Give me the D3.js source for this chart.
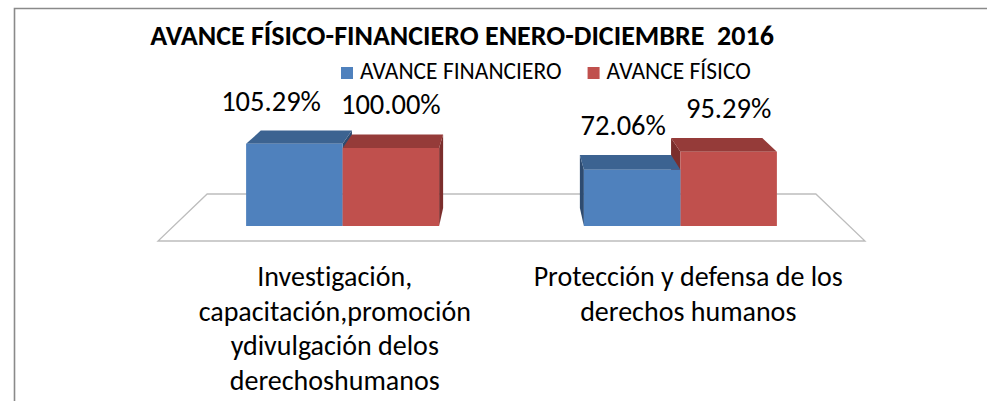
<!DOCTYPE html>
<html lang="es">
<head>
<meta charset="UTF-8" />
<title>Avance físico-financiero 2016</title>
<style>
  * { margin: 0; padding: 0; box-sizing: border-box; }
  body { background: #fff; width: 987px; height: 401px; overflow: hidden; }
  svg text { font-family: Calibri, Carlito, Lato, sans-serif; fill: #000; font-variant-ligatures: none; }
</style>
</head>
<body>
<svg id="chart" width="987" height="401"></svg>
<script src="https://d3js.org/d3.v7.min.js"></script>
<script>
// --- data ---
const categories = ['Investigación, capacitación,promoción ydivulgación delos derechoshumanos',
                    'Protección y defensa de los derechos humanos'];
const categoryLines = [
  ['Investigación,', 'capacitación,promoción', 'ydivulgación delos', 'derechoshumanos'],
  ['Protección y defensa de los', 'derechos humanos']
];
const series = ['AVANCE FINANCIERO', 'AVANCE FÍSICO'];
const financiero = [105.29, 72.06];
const fisico = [100.00, 95.29];
const title = 'AVANCE FÍSICO-FINANCIERO ENERO-DICIEMBRE  2016';

const frontColor = ['#4F81BD', '#C0504D'];
const topColor = ['#3C6391', '#953B39'];
const sideColor = ['#2E4B70', '#7B2E2C'];

const svg = d3.select('#chart');

// chart frame (cropped on right/bottom)
svg.append('path')
  .attr('d', 'M14.5,401 V8.5 H987')
  .attr('fill', 'none')
  .attr('stroke', '#8a8a8a')
  .attr('stroke-width', 1.6);

// simple perspective: front plane coords -> screen, z in [0,1] is floor depth
const vp = { x: 511.5, y: -97 }, K = 0.139;
function proj(x, y, z) {
  const s = 1 - K * z;
  return [vp.x + (x - vp.x) * s, vp.y + (y - vp.y) * s];
}
const z0 = 0.32, z1 = 0.70;

const x0 = d3.scaleBand().domain(categories).range([158, 865])
  .paddingInner(0.4286).paddingOuter(0.2143);
const x1 = d3.scaleBand().domain(series).range([0, x0.bandwidth()]);
const y = d3.scaleLinear().domain([0, 100]).range([241, 159.4]);

const poly = pts => 'M' + pts.map(p => p.join(',')).join('L') + 'Z';

// floor
const fl = x0.range()[0], fr = x0.range()[1], fy = y(0);
svg.append('path')
  .attr('d', poly([proj(fl, fy, 0), proj(fr, fy, 0), proj(fr, fy, 1), proj(fl, fy, 1)]))
  .attr('fill', '#fff')
  .attr('stroke', '#bdbdbd')
  .attr('stroke-width', 1.3);

// bars
const bars = [];
categories.forEach((c, i) => {
  [financiero, fisico].forEach((vals, s) => {
    const L = x0(c) + x1(series[s]);
    const R = L + x1.bandwidth();
    bars.push({ c, s, v: vals[i], L, R, T: y(vals[i]), B: y(0), mid: (L + R) / 2 });
  });
});
const byOrder = bars.slice();
// far from the vanishing point first
bars.sort((a, b) => Math.abs(b.mid - vp.x) - Math.abs(a.mid - vp.x));

const g = svg.append('g');
bars.forEach(b => {
  const sx = b.mid < vp.x ? b.R : b.L;
  g.append('path')
    .attr('d', poly([proj(sx, b.T, z0), proj(sx, b.T, z1), proj(sx, b.B, z1), proj(sx, b.B, z0)]))
    .attr('fill', sideColor[b.s]);
  g.append('path')
    .attr('d', poly([proj(b.L, b.T, z0), proj(b.R, b.T, z0), proj(b.R, b.T, z1), proj(b.L, b.T, z1)]))
    .attr('fill', topColor[b.s]);
  g.append('path')
    .attr('d', poly([proj(b.L, b.T, z0), proj(b.R, b.T, z0), proj(b.R, b.B, z0), proj(b.L, b.B, z0)]))
    .attr('fill', frontColor[b.s]);
});

// value labels, pushed left when they would touch the next one in the group
const labels = byOrder.map(b => svg.append('text')
  .attr('x', proj(b.mid, b.T, z0)[0])
  .attr('y', proj(b.L, b.T, z1)[1] - 20)
  .attr('text-anchor', 'middle')
  .style('font-size', '28.5px')
  .text(b.v.toFixed(2) + '%'));
for (let i = 0; i < labels.length - 1; i += 2) {
  const a = labels[i].node().getBBox(), b = labels[i + 1].node().getBBox();
  const gap = b.x - (a.x + a.width);
  if (gap < 20) labels[i].attr('x', +labels[i].attr('x') - (20 - gap));
}

// category labels
categories.forEach((c, i) => {
  const t = svg.append('text')
    .attr('text-anchor', 'middle')
    .style('font-size', '28px');
  categoryLines[i].forEach((ln, k) => {
    t.append('tspan')
      .attr('x', x0(c) + x0.bandwidth() / 2)
      .attr('y', 286 + k * 34.5)
      .text(ln);
  });
});

// title
svg.append('text')
  .attr('x', 462).attr('y', 45)
  .attr('text-anchor', 'middle')
  .style('font-size', '28px')
  .style('font-weight', 'bold')
  .style('white-space', 'pre')
  .text(title);

// legend
let lx = 341;
series.forEach((s, i) => {
  svg.append('rect')
    .attr('x', lx).attr('y', 67).attr('width', 12).attr('height', 12)
    .attr('fill', frontColor[i]);
  const t = svg.append('text')
    .attr('x', lx + 19).attr('y', 79)
    .style('font-size', '23.5px')
    .text(s);
  lx += 19 + t.node().getComputedTextLength() + 26;
});
</script>
</body>
</html>
